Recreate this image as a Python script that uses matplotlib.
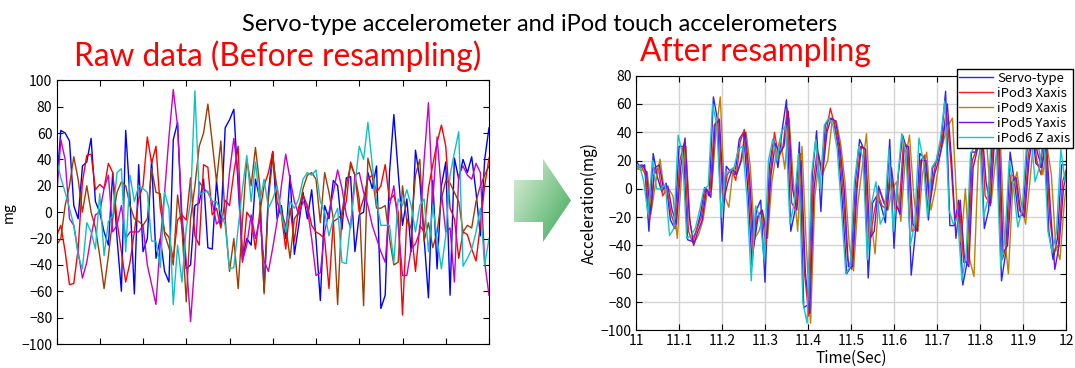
import numpy as np
import matplotlib
matplotlib.use("Agg")
import matplotlib.pyplot as plt
from matplotlib.patches import Polygon

# ---- raw data (left panel), one value per sample ----
raw_blue = [20, 62, 60, 54, 5, -5, 35, 38, 56, 8,
            0, -15, -25, 30, -20, -60, 62, 10, -62, 36,
            -30, -20, 40, -35, -20, -45, -53, 55, 68, -10,
            -43, -40, 5, 7, 25, -27, -28, 24, -10, 64,
            70, 78, 20, -35, -20, -25, 25, 10, -60, 15,
            46, -5, 5, -20, 28, -32, -10, 15, -5, 17,
            -20, -67, 5, -5, 24, 20, -13, 26, 27, -30,
            -2, 0, 30, 18, 35, -73, -63, 30, 74, 30,
            -10, 10, -30, 47, 25, -20, -65, 24, -43, 20,
            38, -63, 41, 25, 40, 30, 42, 15, -18, 40,
            64]
raw_red = [-18, -10, -30, -55, -54, -28, 23, 43, 44, 17,
           21, 18, 37, 30, -7, -30, -53, -38, -15, 10,
           20, 57, 37, 50, 3, -15, -19, -36, -6, -2,
           -6, 26, -18, -25, 36, 34, -2, 3, -12, 9,
           5, 30, 50, -38, 0, -5, -28, 0, 20, 30,
           46, 8, -2, -28, 3, -22, 4, 13, 5, -10,
           -15, -17, -20, -58, -7, -5, -2, 8, 38, 28,
           0, 10, 25, 28, 15, 20, 36, 9, 13, 0,
           -78, -5, -12, -45, -10, -15, 18, 36, 53, 66,
           50, 3, -5, -35, -15, -17, -28, -37, -10, 20,
           41]
raw_brown = [-25, -20, 5, 20, 42, 25, 0, 20, 0, -12,
             -33, -58, -33, -5, 15, 23, 20, 5, -5, -7,
             -10, -5, 33, 15, 14, -17, -27, -40, 13, -12,
             -68, -5, 20, 50, 60, 82, 53, 23, 54, -5,
             -45, -20, -58, -7, 40, 20, 49, 20, -62, 10,
             41, 18, 0, -10, -35, -5, 0, 18, 28, 30,
             25, -8, 30, 15, -5, -70, 0, 20, 36, 28,
             10, -71, 41, 28, 3, 3, 5, -20, -40, -38,
             20, -7, -12, 28, 40, -22, -8, -27, -15, 10,
             24, 22, 15, 8, -15, -10, -12, 8, 20, 28,
             35]
raw_magenta = [10, 55, 40, -5, -10, -30, -50, -38, -18, -2,
               0, 18, 28, -15, -10, 5, -20, -15, -15, -15,
               -10, -40, -55, -70, -22, 15, 57, 93, 65, -2,
               -37, -83, -37, 23, 18, 15, 8, -9, -5, -5,
               30, 56, 28, -37, -25, -2, -20, -5, -37, -45,
               -27, -7, 20, 44, 25, 8, -2, 8, 3, -20,
               -48, -46, -15, 0, 15, 32, 18, -2, -12, 28,
               30, 15, 5, -10, -20, -30, -38, 5, 20, -10,
               -48, -48, -28, -24, -15, 40, 83, 8, 57, 15,
               -15, -12, -53, 28, 35, 28, 25, 37, 30, -38,
               -63]
raw_cyan = [40, 26, 15, 3, -10, -33, -43, -8, -15, -28,
            14, -33, -7, -3, 30, 33, -30, 28, 8, 20,
            18, 15, -22, -22, -42, 15, 3, -70, -25, -53,
            -12, 8, 92, 13, 15, 16, 8, 8, 0, -10,
            -43, -42, -12, 18, 43, 8, 38, 8, 25, 3,
            10, 20, -2, -15, 8, 3, 10, 25, 30, 28,
            32, 8, 0, -18, -5, 3, -38, -39, -8, 20,
            50, 40, 68, 36, 8, -10, -10, -10, -38, 10,
            5, 17, 5, -15, 5, 10, -30, 5, -20, -43,
            -18, 28, 45, 61, -41, -35, -28, -15, 3, -40,
            -20]
raw_colors = ['#0000ff', '#ff0000', '#a03c00', '#c800c8', '#10c0c0']

# ---- resampled data (right panel), 100 Hz from 11.00 s to 12.00 s ----
servo = [20, 15, 17, -30, 25, 8, -2, 4, -22, -28,
         30, 30, -36, -37, -30, -18, 1, -5, 65, 48,
         -37, 16, 12, 10, 35, 40, 0, -54, -15, -8,
         -66, 15, 35, 15, 42, 63, -30, -15, 33, -84,
         -82, 10, 41, -16, 45, 50, 48, 30, -10, -60,
         -55, 5, 35, 28, -63, -10, -5, -12, -24, 35,
         -42, 10, 38, 28, -61, -30, 25, 22, -22, 15,
         20, 35, 69, -26, -26, -8, -68, -52, 26, 26,
         55, -28, -15, 45, 35, -65, -45, 26, 5, -20,
         -18, 30, 45, 18, 15, 40, -30, -50, -35, 17,
         17]
ipod3_x = [14, 16, 10, -22, 10, 15, -5, 0, -18, -28,
           20, 32, -30, -38, -28, -20, 0, -3, 45, 50,
           -10, 10, 14, 6, 33, 42, 5, -45, -20, -15,
           -40, 10, 40, 22, 30, 57, -10, -15, 25, -60,
           -90, 5, 28, 10, 40, 57, 45, 30, -5, -50,
           -57, 0, 30, 28, -42, -20, -3, -12, -14, 15,
           -14, -14, 33, 30, -30, -28, 20, 24, -10, 10,
           25, 35, 55, 20, -25, -10, -52, -52, 20, 28,
           50, -5, -10, 38, 40, -50, -40, 10, 8, -15,
           -20, 22, 45, 20, 10, 38, -20, -45, -40, 5,
           15]
ipod9_x = [14, 13, 12, -15, 5, 21, -2, 0, -5, -35,
           10, 30, -25, -38, -32, -22, -2, 0, 40, 65,
           -5, -13, 15, 12, 20, 40, 15, -35, -30, -18,
           -35, 5, 25, 36, 14, 50, 5, -30, 30, -40,
           -95, -5, 20, 12, 20, 48, 48, 32, 5, -40,
           -58, -10, 15, 39, -20, -46, 0, -8, -15, 0,
           5, -23, 20, 38, -5, -30, 10, 26, -15, 0,
           22, 35, 45, 50, -10, -38, 0, -50, -62, 20,
           40, 30, -10, 20, 45, -30, -60, 0, 12, -10,
           -25, 5, 40, 30, 10, 30, 10, -40, -50, -10,
           15]
ipod5_y = [16, 17, 12, -18, 15, 17, 0, 2, -15, -25,
           15, 36, -20, -40, -30, -22, 0, -6, 45, 49,
           -8, 5, 14, 10, 20, 40, 8, -40, -20, -15,
           -35, 10, 32, 25, 30, 55, 0, -15, 20, -60,
           -88, 0, 25, 10, 40, 50, 48, 30, 0, -55,
           -55, 0, 30, 28, -35, -30, 2, -8, -15, 15,
           -10, -18, 30, 30, -25, -30, 20, 20, -10, 10,
           20, 35, 60, 20, -35, -8, -50, -55, 15, 28,
           45, 5, -12, 35, 40, -45, -40, 5, 8, -15,
           -20, 20, 40, 25, 15, 35, -15, -57, -40, 0,
           17]
ipod6_z = [12, 17, 5, -18, 20, 0, 0, 3, -33, -28,
           38, 25, -35, -33, -28, -15, 0, 2, 60, 45,
           -20, 12, 12, 15, 28, 30, -5, -65, -12, -20,
           -50, 20, 35, 20, 40, 45, -25, -10, 25, -80,
           -95, 10, 35, 0, 45, 50, 45, 28, -15, -60,
           -55, 5, 30, 22, -50, -10, 5, -25, -18, 28,
           -30, 5, 39, 25, -40, -25, 36, 20, -20, 15,
           20, 35, 62, -15, -25, -20, -65, -45, 25, 30,
           50, -20, -8, 45, 30, -55, -35, 20, 0, -27,
           -15, 30, 42, 5, 15, 38, -30, -45, -30, 28,
           5]
series_names = ['Servo-type', 'iPod3 Xaxis', 'iPod9 Xaxis', 'iPod5 Yaxis', 'iPod6 Z axis']
series_colors = ['#2424ff', '#ff1a1a', '#c08000', '#7010e0', '#10c8c8']
lag_s = [0.0, 0.002, 0.006, 0.004, -0.002]   # sampling offset of each sensor

W, H = 1075, 368
fig = plt.figure(figsize=(W / 100, H / 100), dpi=100)
plt.rcParams['font.family'] = ['Noto Sans CJK JP', 'DejaVu Sans']

# ---- left panel ----
ax1 = fig.add_axes([56.5 / W, 1 - 344 / H, 432.5 / W, 263.7 / H])
for vals, c in zip([raw_blue, raw_red, raw_brown, raw_magenta, raw_cyan], raw_colors):
    ax1.plot(np.arange(len(vals)), vals, color=c, lw=1.0)
ax1.set_xlim(0, 100)
ax1.set_ylim(-100, 100)
ax1.set_xticks(np.arange(0, 101, 10))
ax1.set_xticklabels([])
ax1.set_yticks(np.arange(-100, 101, 20))
ax1.tick_params(direction='in', top=True, right=True, length=4, labelsize=10, pad=3)
ax1.set_ylabel('mg', fontsize=10, labelpad=4)

# ---- right panel ----
ax2 = fig.add_axes([636 / W, 1 - 330.3 / H, 430 / W, 254.6 / H])
t = 11 + np.arange(len(servo)) / 100
for vals, name, c, lag in zip([servo, ipod3_x, ipod9_x, ipod5_y, ipod6_z],
                              series_names, series_colors, lag_s):
    ax2.plot(t + lag, vals, color=c, lw=1.0, label=name)
ax2.set_xlim(11, 12)
ax2.set_ylim(-100, 80)
ax2.set_xticks(np.round(np.arange(11, 12.01, 0.1), 1))
ax2.set_xticklabels(['11', '11.1', '11.2', '11.3', '11.4', '11.5', '11.6', '11.7', '11.8', '11.9', '12'])
ax2.set_yticks(np.arange(-100, 81, 20))
ax2.grid(True, color='#d4d4d4', lw=1)
ax2.set_axisbelow(True)
ax2.tick_params(direction='in', top=True, right=True, length=4, labelsize=10, pad=3)
ax2.set_xlabel('Time(Sec)', fontsize=11, labelpad=1)
ax2.set_ylabel('Acceleration(mg)', fontsize=11, labelpad=2)
leg = ax2.legend(loc='upper right', bbox_to_anchor=(1.017, 1.025), fontsize=9.5,
                 frameon=True, fancybox=False, framealpha=1, edgecolor='black',
                 borderpad=0.2, labelspacing=0.15, handlelength=2.6, handletextpad=0.3,
                 borderaxespad=0)
leg.get_frame().set_linewidth(1.0)

# ---- titles ----
fig.text(540 / W, 1 - 31 / H, 'Servo-type accelerometer and iPod touch accelerometers',
         ha='center', va='baseline', fontsize=17, family='Lato')
fig.text(278 / W, 1 - 66 / H, 'Raw data (Before resampling)', ha='center', va='baseline',
         fontsize=22.8, color='#ff0000', family='Lato')
fig.text(755 / W, 1 - 61 / H, 'After resampling', ha='center', va='baseline',
         fontsize=22.8, color='#ff0000', family='Lato')

# ---- green arrow between panels ----
bg = fig.add_axes([0, 0, 1, 1], zorder=-1)
bg.set_xlim(0, W)
bg.set_ylim(H, 0)
bg.axis('off')
arrow_pts = [(514, 180), (543, 180), (543, 159), (571, 200.5), (543, 242), (543, 222), (514, 222)]
poly = Polygon(arrow_pts, closed=True, facecolor='none', edgecolor='none')
bg.add_patch(poly)
gx, gy = np.meshgrid(np.linspace(0, 1, 60), np.linspace(0, 1, 80))
grad = gx * 0.55 + gy * 0.45
cmap = matplotlib.colors.LinearSegmentedColormap.from_list('g', ['#e0f0dc', '#3da957'])
im = bg.imshow(grad, extent=(514, 571, 242, 159), cmap=cmap, aspect='auto', interpolation='bilinear')
im.set_clip_path(poly)

fig.savefig('out.png', dpi=100)
